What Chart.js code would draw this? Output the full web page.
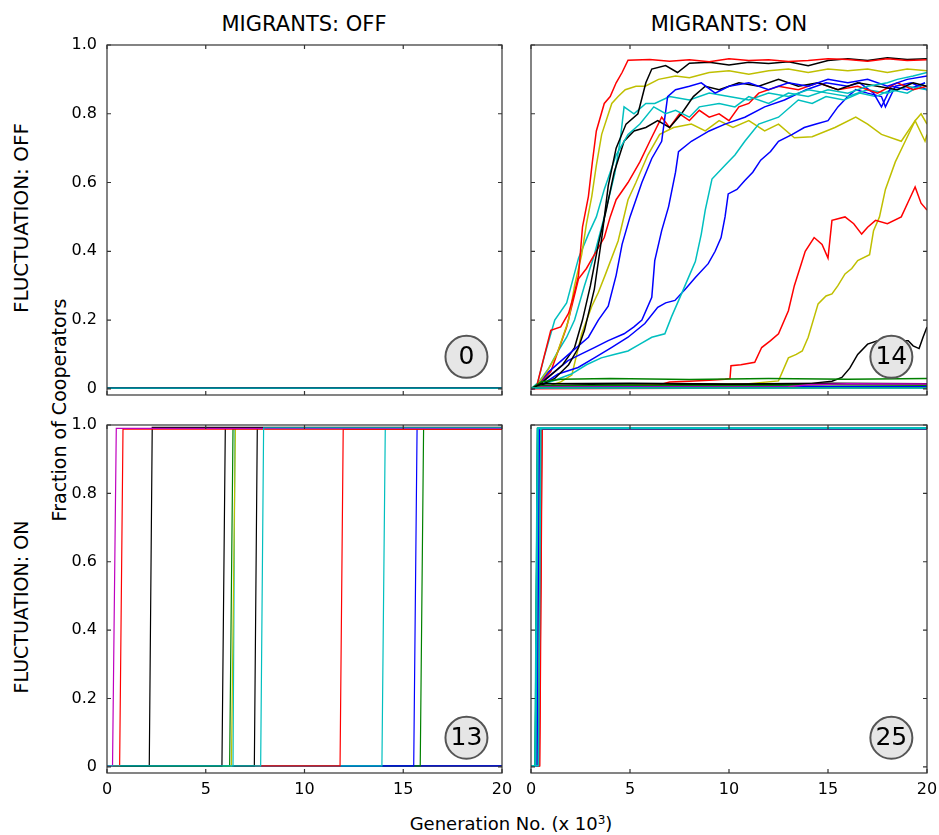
<!DOCTYPE html>
<html lang="en">
<head>
    <meta charset="UTF-8">
    <title>Fraction of Cooperators</title>
    <!-- Chart.js -->
    <script src="https://cdn.jsdelivr.net/npm/chart.js"></script>
    <style>
        body { margin: 0; background: #fff; font-family: 'DejaVu Sans', sans-serif; }
        #fig { position: relative; width: 939px; height: 835px; overflow: hidden; background: #fff; }
        .panel { position: absolute; }
        .txt { position: absolute; white-space: nowrap; color: #000; line-height: 1; }
        .rot { transform: translate(-50%, -50%) rotate(-90deg); }
        .ctr { transform: translateX(-50%); }
    </style>
</head>
<body>
<div id="fig">
    <div class="txt ctr" style="left:304px; top:14px; font-size:21px;">MIGRANTS: OFF</div>
    <div class="txt ctr" style="left:729px; top:14px; font-size:21px;">MIGRANTS: ON</div>
    <div class="txt rot" style="left:21px; top:218px; font-size:20px;">FLUCTUATION: OFF</div>
    <div class="txt rot" style="left:21px; top:607px; font-size:19px;">FLUCTUATION: ON</div>
    <div class="txt rot" style="left:59px; top:410px; font-size:19px;">Fraction of Cooperators</div>
    <div class="txt ctr" style="left:511px; top:814px; font-size:18px;">Generation No. (x 10<sup style="font-size:12px; vertical-align:6px;">3</sup>)</div>

    <div class="panel" id="pTL"><canvas></canvas></div>
    <div class="panel" id="pTR"><canvas></canvas></div>
    <div class="panel" id="pBL"><canvas></canvas></div>
    <div class="panel" id="pBR"><canvas></canvas></div>
</div>

<script>
    // colores (matplotlib clasico)
    const B = '#0000ff', G = '#008000', R = '#ff0000', C = '#00bfbf', M = '#bf00bf', Y = '#bfbf00', K = '#000000';

    // ejes
    const xTicks = [0, 5, 10, 15, 20];
    const yTicks = [0, 0.2, 0.4, 0.6, 0.8, 1.0];
    const yTickLabels = ['0', '0.2', '0.4', '0.6', '0.8', '1.0'];
    const yMin = -0.018;

    // numero en el circulo de cada panel: TL, TR, BL, BR
    const badgeText = ['0', '14', '13', '25'];
    const badgeX = [18.2, 18.2, 18.2, 18.2];
    const badgeY = [0.093, 0.093, 0.085, 0.085];

    // ---- Panel TL: migrants off, fluctuation off (todo en cero) ----
    const tlColors = [C, K, B, G, R, M, Y];
    const tlFlat = [[0, 0.002], [20, 0.002]];

    // ---- Panel TR: migrants on, fluctuation off ----
    const trRed1 = [[0,0],[0.3,0.01],[0.6,0.08],[1.0,0.17],[1.5,0.18],[1.9,0.22],[2.2,0.28],[2.4,0.33],[2.6,0.47],[2.9,0.56],[3.1,0.66],[3.3,0.75],[3.7,0.83],[4.0,0.85],[4.3,0.89],[4.6,0.92],[4.9,0.956],[6,0.958],[7,0.953],[8,0.957],[9,0.951],[10,0.96],[11,0.955],[12,0.957],[13,0.952],[14,0.955],[15,0.96],[16,0.958],[17,0.953],[18,0.96],[19,0.955],[20,0.957]];
    const trBlack1 = [[0,0],[0.5,0.01],[1.2,0.03],[1.9,0.07],[2.4,0.12],[2.7,0.17],[3.2,0.29],[3.6,0.45],[3.9,0.59],[4.3,0.7],[4.8,0.77],[5.4,0.8],[5.8,0.89],[6.1,0.93],[6.8,0.94],[7.4,0.92],[8.0,0.947],[9,0.95],[10,0.942],[11,0.95],[12,0.946],[13,0.951],[14,0.94],[15,0.955],[16,0.96],[17,0.955],[18,0.963],[19,0.958],[20,0.96]];
    const trBlack2 = [[0,0],[0.4,0.01],[1.0,0.04],[1.6,0.07],[2.2,0.12],[2.6,0.2],[3.0,0.3],[3.4,0.42],[3.8,0.52],[4.2,0.63],[4.7,0.72],[5.2,0.75],[5.8,0.76],[6.4,0.78],[7.0,0.76],[7.6,0.8],[8.2,0.85],[8.8,0.88],[9.5,0.87],[10.5,0.89],[11.5,0.88],[12.5,0.9],[13.5,0.88],[14.5,0.89],[15.5,0.87],[16.5,0.89],[17.5,0.88],[18.5,0.87],[19.3,0.89],[20,0.88]];
    const trBlack3 = [[0,0],[0.5,0.01],[3,0.012],[6,0.01],[9,0.013],[12,0.012],[14,0.013],[14.5,0.018],[15.2,0.022],[15.7,0.033],[16.1,0.06],[16.5,0.1],[17.0,0.13],[17.5,0.14],[17.9,0.135],[18.5,0.14],[19.05,0.14],[19.3,0.125],[19.6,0.117],[19.8,0.15],[20,0.18]];
    const trRed2 = [[0,0],[0.3,0.01],[1.0,0.05],[1.8,0.18],[2.4,0.32],[2.8,0.35],[3.2,0.39],[3.7,0.44],[4.0,0.5],[4.3,0.55],[4.9,0.6],[5.5,0.66],[6.0,0.72],[6.6,0.79],[7.0,0.76],[7.5,0.8],[8.0,0.78],[8.5,0.81],[9.0,0.79],[9.5,0.8],[10.0,0.78],[10.5,0.82],[11.0,0.83],[11.5,0.86],[12.5,0.88],[13.5,0.87],[14.5,0.89],[15.5,0.87],[16.5,0.88],[17.5,0.86],[18.5,0.89],[19.3,0.87],[20,0.88]];
    const trRed3 = [[0,0],[1,0.005],[3,0.008],[5,0.01],[6.5,0.012],[7.0,0.02],[8,0.022],[9,0.025],[9.8,0.028],[10.05,0.03],[10.1,0.067],[10.6,0.07],[11.3,0.077],[11.65,0.12],[12.1,0.14],[12.5,0.16],[13.0,0.227],[13.3,0.3],[13.6,0.354],[13.85,0.4],[14.3,0.44],[14.7,0.42],[15.0,0.38],[15.2,0.49],[15.86,0.5],[16.3,0.48],[16.7,0.45],[17.0,0.47],[17.4,0.49],[18.0,0.48],[18.7,0.5],[19.1,0.55],[19.4,0.587],[19.7,0.54],[20,0.52]];
    const trYellow1 = [[0,0],[0.3,0.01],[0.8,0.05],[1.3,0.1],[1.9,0.2],[2.2,0.3],[2.56,0.39],[2.8,0.48],[3.07,0.56],[3.3,0.65],[3.57,0.74],[4.08,0.83],[4.4,0.85],[4.76,0.87],[5.3,0.88],[5.77,0.88],[6.44,0.9],[7.3,0.91],[8,0.905],[9,0.92],[10,0.925],[11,0.915],[12,0.925],[13,0.93],[14,0.92],[15,0.93],[16,0.925],[17,0.93],[18,0.92],[19,0.93],[20,0.925]];
    const trYellow2 = [[0,0],[0.4,0.005],[1.0,0.01],[1.5,0.02],[2.06,0.04],[2.56,0.16],[3.07,0.24],[3.4,0.28],[3.74,0.33],[4.4,0.43],[4.9,0.55],[5.3,0.6],[5.9,0.68],[6.5,0.74],[7.2,0.76],[8.1,0.77],[8.8,0.75],[9.5,0.78],[10.2,0.76],[11,0.78],[11.8,0.75],[12.5,0.77],[13.3,0.73],[14.2,0.733],[15.35,0.76],[16.4,0.79],[17.0,0.77],[17.7,0.74],[18.7,0.72],[19.4,0.78],[19.9,0.72],[20,0.74]];
    const trYellow3 = [[0,0],[1,0.008],[4,0.01],[8,0.012],[11,0.015],[12.5,0.023],[13.0,0.09],[13.4,0.1],[13.7,0.11],[14.0,0.15],[14.5,0.247],[14.9,0.27],[15.2,0.276],[15.5,0.3],[15.86,0.334],[16.2,0.35],[16.5,0.373],[17.1,0.39],[17.3,0.46],[17.6,0.5],[17.9,0.58],[18.4,0.66],[18.9,0.72],[19.4,0.78],[19.7,0.8],[20,0.77]];
    const trCyan1 = [[0,0],[0.3,0.01],[0.7,0.1],[1.2,0.2],[1.8,0.25],[2.4,0.38],[2.9,0.45],[3.3,0.5],[3.7,0.58],[4.3,0.68],[4.9,0.74],[5.5,0.77],[6.2,0.82],[6.8,0.8],[7.3,0.81],[8.0,0.79],[8.5,0.82],[9.5,0.83],[10.3,0.82],[11,0.85],[12,0.83],[13,0.86],[14,0.85],[15,0.87],[16,0.86],[17,0.88],[18,0.89],[18.5,0.9],[19.3,0.91],[20,0.92]];
    const trCyan2 = [[0,0],[0.5,0.01],[1.2,0.025],[2.04,0.043],[2.8,0.07],[3.55,0.09],[4.2,0.1],[4.9,0.11],[5.5,0.13],[6.1,0.15],[6.76,0.16],[7.1,0.21],[7.6,0.276],[8.0,0.33],[8.3,0.37],[8.6,0.45],[8.8,0.52],[9.14,0.61],[9.8,0.65],[10.3,0.68],[10.8,0.72],[11.5,0.77],[12.5,0.79],[13.5,0.84],[14.2,0.83],[14.9,0.85],[15.8,0.84],[16.6,0.86],[17.4,0.85],[18.2,0.87],[19,0.86],[19.9,0.89]];
    const trCyan3 = [[0,0],[0.4,0.02],[0.9,0.06],[1.37,0.11],[1.8,0.15],[2.2,0.2],[2.7,0.3],[3.2,0.39],[3.7,0.5],[4.23,0.626],[4.5,0.72],[4.7,0.82],[5.2,0.8],[5.8,0.83],[6.25,0.83],[7,0.85],[8,0.84],[9,0.86],[10,0.85],[11,0.84],[12,0.86],[13,0.85],[14,0.87],[15,0.86],[16,0.85],[17,0.87],[18,0.86],[19,0.88],[20,0.87]];
    const trBlue1 = [[0,0],[0.3,0.01],[0.9,0.05],[1.9,0.1],[2.9,0.15],[3.4,0.2],[3.9,0.24],[4.3,0.33],[4.6,0.42],[5.0,0.5],[5.6,0.6],[6.1,0.67],[6.6,0.72],[6.9,0.85],[7.3,0.87],[8.0,0.88],[8.6,0.89],[9.3,0.86],[10,0.88],[11,0.89],[12,0.87],[13,0.89],[14,0.88],[15,0.9],[16,0.89],[17,0.9],[18,0.88],[19,0.9],[20,0.91]];
    const trBlue2 = [[0,0],[0.5,0.02],[1.2,0.05],[1.87,0.082],[2.5,0.1],[3.2,0.12],[3.9,0.14],[4.7,0.16],[5.2,0.18],[5.6,0.2],[6.1,0.266],[6.25,0.373],[6.6,0.46],[6.95,0.53],[7.3,0.63],[7.45,0.69],[8.1,0.72],[9.0,0.75],[9.8,0.77],[10.8,0.79],[11.8,0.82],[12.8,0.84],[13.9,0.87],[14.9,0.89],[16,0.88],[16.6,0.89],[17.3,0.86],[17.7,0.82],[18.2,0.88],[19,0.87],[19.9,0.89]];
    const trBlue3 = [[0,0],[0.5,0.01],[1.37,0.043],[2.38,0.062],[3.2,0.09],[4.06,0.12],[4.9,0.15],[5.75,0.19],[6.4,0.237],[6.8,0.25],[7.27,0.257],[7.8,0.29],[8.3,0.324],[8.95,0.364],[9.3,0.4],[9.6,0.44],[9.8,0.5],[9.96,0.567],[10.4,0.58],[10.8,0.606],[11.2,0.63],[11.6,0.665],[12.1,0.69],[12.5,0.72],[13.2,0.74],[13.8,0.76],[14.4,0.77],[15.0,0.78],[15.5,0.82],[16.0,0.85],[16.4,0.87],[17.0,0.86],[17.7,0.85],[17.9,0.82],[18.4,0.88],[19.2,0.89],[20,0.87]];
    const trGreen1 = [[0,0],[0.5,0.02],[1.5,0.028],[4,0.03],[8,0.027],[12,0.03],[16,0.028],[20,0.03]];
    const trGreen2 = [[0,0],[0.5,0.008],[5,0.01],[10,0.009],[15,0.012],[20,0.01]];
    const trGreen3 = [[0,0.003],[20,0.003]];
    const trMagenta = [[0,0],[0.5,0.005],[13,0.006],[14,0.012],[16,0.015],[20,0.014]];
    const trBlack4 = [[0,0],[0.5,0.015],[5,0.016],[10,0.014],[15,0.016],[20,0.015]];
    const trCyan4 = [[0,0.002],[20,0.002]];
    const trBlue4 = [[0,0],[1,0.006],[20,0.007]];
    const trRed4 = [[0,0],[20,0.004]];

    // ---- Panel BL: migrants off, fluctuation on (saltos) ----
    const blColors   = [C, M, R, K, K, G, Y, C, K, R, C, B, G];
    const blRiseFrom = [7.78, 0.28, 0.64, 2.14, 5.82, 6.21, 6.30, 6.38, 7.46, 11.80, 13.92, 15.53, 15.86];
    const blRiseTo   = [7.93, 0.47, 0.81, 2.29, 5.99, 6.38, 6.50, 6.48, 7.61, 11.96, 14.09, 15.70, 16.03];
    const blTop      = [0.992, 0.99, 0.988, 0.993, 0.99, 0.989, 0.99, 0.991, 0.992, 0.988, 0.99, 0.991, 0.989];
    const blFlatColors = [B, G, R, C, M, Y, K, B, G, R, C, M];
    const blFlat = [[0, 0.003], [20, 0.003]];

    // ---- Panel BR: migrants on, fluctuation on ----
    const brColors   = [C, C, C, B, G, R, M, Y, K, B, G, R, C, M, Y, K, B, G, R, M, Y, K, B, G, R];
    const brRiseFrom = [0.24, 0.20, 0.38, 0.30, 0.22, 0.40, 0.28, 0.33, 0.26, 0.31, 0.21, 0.42, 0.29, 0.35, 0.27, 0.25, 0.36, 0.23, 0.44, 0.32, 0.34, 0.30, 0.37, 0.22, 0.41];
    const brRiseTo   = [0.36, 0.32, 0.50, 0.42, 0.34, 0.54, 0.40, 0.45, 0.38, 0.43, 0.33, 0.55, 0.41, 0.47, 0.39, 0.37, 0.48, 0.35, 0.56, 0.44, 0.46, 0.42, 0.49, 0.34, 0.53];
    const brTop      = [0.992, 0.99, 0.991, 0.989, 0.99, 0.988, 0.991, 0.99, 0.989, 0.992, 0.99, 0.988, 0.991, 0.99, 0.989, 0.99, 0.991, 0.988, 0.99, 0.989, 0.991, 0.99, 0.988, 0.99, 0.991];

    // ---- construir series ----
    const tlLines = tlColors.map(c => ({ d: tlFlat, c }));
    const trLines = [
        { d: trCyan4, c: C }, { d: trGreen3, c: G }, { d: trMagenta, c: M }, { d: trBlack4, c: K },
        { d: trGreen1, c: G }, { d: trGreen2, c: G }, { d: trBlue4, c: B }, { d: trRed4, c: R },
        { d: trBlack3, c: K }, { d: trRed3, c: R }, { d: trYellow3, c: Y },
        { d: trRed1, c: R }, { d: trBlack1, c: K }, { d: trYellow1, c: Y },
        { d: trCyan1, c: C }, { d: trBlue1, c: B }, { d: trBlack2, c: K }, { d: trRed2, c: R },
        { d: trCyan3, c: C }, { d: trBlue2, c: B }, { d: trCyan2, c: C }, { d: trBlue3, c: B },
        { d: trYellow2, c: Y }
    ];
    const blLines = blColors.map((c, i) => ({
        d: [[0, 0.003], [blRiseFrom[i], 0.003], [blRiseTo[i], blTop[i]], [20, blTop[i]]], c
    })).concat(blFlatColors.map(c => ({ d: blFlat, c })));
    const brLines = brColors.map((c, i) => ({
        d: [[0, 0.003], [brRiseFrom[i], 0.003], [brRiseTo[i], brTop[i]], [20, brTop[i]]], c
    }));

    // marco, marcas hacia dentro y circulo con el numero
    const framePlugin = {
        id: 'frame',
        afterDatasetsDraw(chart, args, o) {
            const { ctx, chartArea: a, scales } = chart;
            ctx.save();
            ctx.strokeStyle = '#333';
            ctx.lineWidth = 1.2;
            ctx.strokeRect(a.left, a.top, a.right - a.left, a.bottom - a.top);
            ctx.beginPath();
            scales.x.ticks.forEach(t => {
                const px = scales.x.getPixelForValue(t.value);
                ctx.moveTo(px, a.bottom); ctx.lineTo(px, a.bottom - 4);
                ctx.moveTo(px, a.top); ctx.lineTo(px, a.top + 4);
            });
            scales.y.ticks.forEach(t => {
                const py = scales.y.getPixelForValue(t.value);
                ctx.moveTo(a.left, py); ctx.lineTo(a.left + 4, py);
                ctx.moveTo(a.right, py); ctx.lineTo(a.right - 4, py);
            });
            ctx.stroke();

            const bx = scales.x.getPixelForValue(o.x);
            const by = scales.y.getPixelForValue(o.y);
            ctx.beginPath();
            ctx.arc(bx, by, 21, 0, 2 * Math.PI);
            ctx.fillStyle = '#e6e6e6';
            ctx.fill();
            ctx.lineWidth = 2;
            ctx.strokeStyle = '#555';
            ctx.stroke();
            ctx.fillStyle = '#000';
            ctx.font = '25px "DejaVu Sans"';
            ctx.textAlign = 'center';
            ctx.textBaseline = 'middle';
            ctx.fillText(o.label, bx, by + 1);
            ctx.restore();
        }
    };

    function drawPanel(id, area, lines, showX, showY, k, lw) {
        const wrap = document.getElementById(id);
        const w = area.r - area.l + 90, h = area.b - area.t + 50;
        wrap.style.left = (area.l - 70) + 'px';
        wrap.style.top = (area.t - 20) + 'px';
        const canvas = wrap.querySelector('canvas');
        canvas.width = w; canvas.height = h;
        canvas.style.width = w + 'px'; canvas.style.height = h + 'px';

        new Chart(canvas, {
            type: 'line',
            data: {
                datasets: lines.map(s => ({
                    data: s.d.map(p => ({ x: p[0], y: p[1] })),
                    borderColor: s.c,
                    borderWidth: lw,
                    pointRadius: 0,
                    fill: false,
                    tension: 0
                }))
            },
            options: {
                responsive: false,
                animation: false,
                parsing: false,
                layout: { padding: { top: 20, right: 20, left: 0, bottom: 0 } },
                plugins: {
                    legend: { display: false },
                    tooltip: { enabled: false },
                    frame: { label: badgeText[k], x: badgeX[k], y: badgeY[k] }
                },
                scales: {
                    x: {
                        type: 'linear', min: 0, max: 20,
                        afterBuildTicks: ax => { ax.ticks = xTicks.map(v => ({ value: v })); },
                        afterFit: ax => { ax.height = 30; },
                        grid: { display: false, drawTicks: false },
                        border: { display: false },
                        ticks: {
                            display: showX, padding: 7, maxRotation: 0, autoSkip: false,
                            color: '#000', font: { family: 'DejaVu Sans', size: 16 },
                            callback: v => String(v)
                        }
                    },
                    y: {
                        type: 'linear', min: yMin, max: 1.0,
                        afterBuildTicks: ax => { ax.ticks = yTicks.map(v => ({ value: v })); },
                        afterFit: ax => { ax.width = 70; },
                        grid: { display: false, drawTicks: false },
                        border: { display: false },
                        ticks: {
                            display: showY, padding: 10, autoSkip: false,
                            color: '#000', font: { family: 'DejaVu Sans', size: 16 },
                            callback: v => yTickLabels[yTicks.indexOf(v)]
                        }
                    }
                }
            },
            plugins: [framePlugin]
        });
    }

    drawPanel('pTL', { l: 107, t: 45, r: 502, b: 395 }, tlLines, false, true, 0, 1.2);
    drawPanel('pTR', { l: 531, t: 45, r: 927, b: 395 }, trLines, false, false, 1, 1.5);
    drawPanel('pBL', { l: 107, t: 425, r: 502, b: 773 }, blLines, true, true, 2, 1.2);
    drawPanel('pBR', { l: 531, t: 425, r: 927, b: 773 }, brLines, true, false, 3, 1.5);
</script>
</body>
</html>
